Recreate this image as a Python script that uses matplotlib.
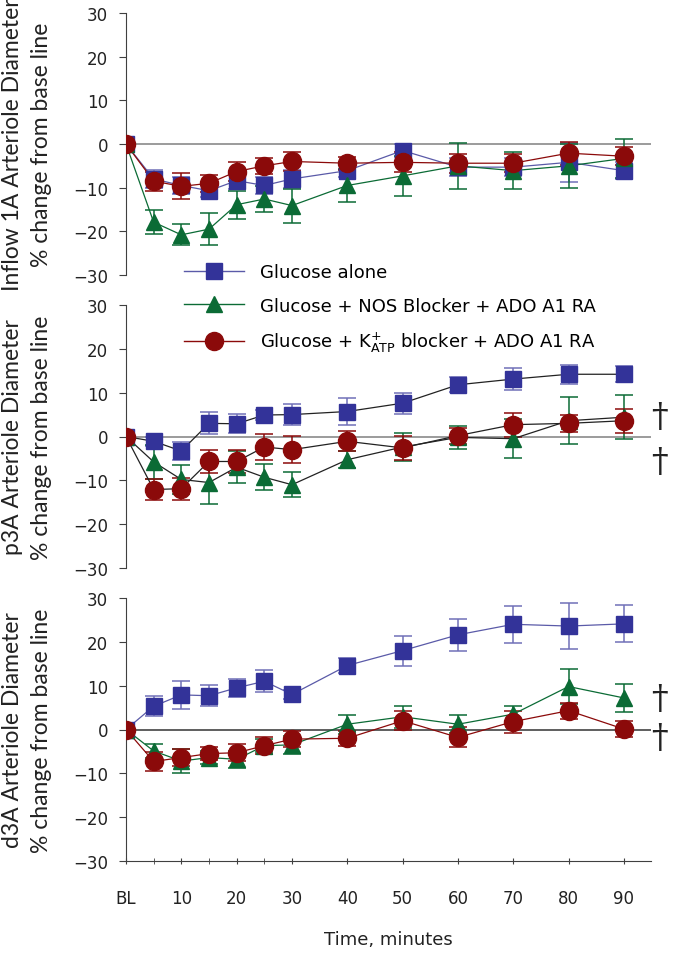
import numpy as np
import matplotlib
matplotlib.use("Agg")
import matplotlib.pyplot as plt
from matplotlib.lines import Line2D

# time points (BL = 0)
times = [0, 5, 10, 15, 20, 25, 30, 40, 50, 60, 70, 80, 90]
xtick_pos = [0, 10, 20, 30, 40, 50, 60, 70, 80, 90]
xtick_labels = ["BL", "10", "20", "30", "40", "50", "60", "70", "80", "90"]

series_names = ["Glucose alone",
                "Glucose + NOS Blocker + ADO A1 RA",
                "Glucose + K$^{+}_{\\mathrm{ATP}}$ blocker + ADO A1 RA"]

# Inflow 1A
inflow_glu = [0, -8, -9.5, -10.7, -8.4, -9.5, -8, -6.1, -1.5, -5.3, -5.3, -4.2, -6.1]
inflow_glu_err = [0, 2, 2, 1.5, 1.8, 2, 2, 1.5, 1.5, 2, 2, 4.5, 2]
inflow_nos = [0, -17.9, -20.8, -19.5, -13.9, -12.6, -14.1, -9.5, -7.3, -5, -6.1, -5, -3.3]
inflow_nos_err = [0, 2.8, 2.4, 3.6, 3.2, 3, 3.9, 3.8, 4.5, 5.3, 4.3, 5, 4.4]
inflow_katp = [0, -8.5, -9.7, -9, -6.3, -5, -4, -4.4, -4.2, -4.4, -4.4, -2.1, -2.8]
inflow_katp_err = [0, 2.2, 3, 2, 2.1, 1.8, 2.2, 1.5, 2.3, 2.2, 2, 2.6, 2]

# p3A
p3a_glu = [0, -1.1, -3.3, 3, 2.9, 4.9, 5, 5.7, 7.6, 11.8, 13.1, 14.2, 14.2]
p3a_glu_err = [0, 1, 2, 2.5, 2.2, 1.2, 2.4, 3, 2.4, 1.7, 2.5, 2.2, 1.8]
p3a_nos = [0, -5.8, -9.8, -10.5, -7, -9.3, -11, -5.3, -2.4, -0.2, -0.5, 3.6, 4.4]
p3a_nos_err = [0, 3.8, 3.3, 5, 3.7, 3, 2.9, 2, 3.3, 2.7, 4.4, 5.3, 5]
p3a_katp = [0, -12.1, -11.9, -5.7, -5.7, -2.4, -3, -1.1, -2.6, 0.2, 2.7, 3, 3.6]
p3a_katp_err = [0, 2.3, 2.5, 2.7, 2.6, 2.9, 3.1, 2.3, 2.7, 1.8, 2.7, 2, 2.7]

# d3A
d3a_glu = [0, 5.3, 7.9, 7.7, 9.5, 11, 8, 14.6, 18, 21.6, 24, 23.6, 24.1]
d3a_glu_err = [0, 2.3, 3.2, 2.4, 2.1, 2.5, 1, 1.8, 3.4, 3.7, 4.2, 5.3, 4.2]
d3a_nos = [0, -4.9, -7.2, -6.4, -6.8, -3.7, -3.5, 1.2, 2.9, 1.2, 3.5, 9.8, 7.2]
d3a_nos_err = [0, 1.5, 2.7, 1.5, 2, 1.5, 2, 2.2, 2.5, 2, 1.8, 4, 3.1]
d3a_katp = [0, -7.3, -6.4, -5.5, -5.3, -3.7, -2.2, -2, 2, -1.8, 1.8, 4.3, 0.1]
d3a_katp_err = [0, 2.1, 2, 1.5, 1.9, 2, 1.9, 1.7, 2.2, 2.3, 2.5, 1.8, 1.8]

ylabels = ["Inflow 1A Arteriole Diameter", "p3A Arteriole Diameter", "d3A Arteriole Diameter"]
dagger_y = [[], [4.4, -5.8], [7, -2]]

blue = "#333399"
blue_err = "#7070b8"
green = "#0b6b35"
red = "#8b0a0a"

W, H = 681, 954
fig = plt.figure(figsize=(W / 100, H / 100), dpi=100)

label_font = ["Lato", "DejaVu Sans"]
tick_font = ["DejaVu Sans"]

panels = [
    (14, 276, (inflow_glu, inflow_glu_err), (inflow_nos, inflow_nos_err), (inflow_katp, inflow_katp_err), None),
    (306, 569, (p3a_glu, p3a_glu_err), (p3a_nos, p3a_nos_err), (p3a_katp, p3a_katp_err), "#222222"),
    (599, 862, (d3a_glu, d3a_glu_err), (d3a_nos, d3a_nos_err), (d3a_katp, d3a_katp_err), None),
]

x0, x1 = 126, 651
for i, (top, bot, g, n, k, linec) in enumerate(panels):
    ax = fig.add_axes([x0 / W, 1 - bot / H, (x1 - x0) / W, (bot - top) / H])
    ax.set_xlim(0, 94.9)
    ax.set_ylim(-30, 30)
    ax.axhline(0, color="#808080" if i < 2 else "#333333", lw=1.1, zorder=1)
    specs = [(g, "s", blue, blue_err, "#5a5aa8", 11),
             (n, "^", green, green, green, 12),
             (k, "o", red, red, red, 13)]
    for (vals, errs), mk, fc, ec, lc, ms in specs:
        ax.errorbar(times, vals, yerr=errs, fmt="none", ecolor=ec, elinewidth=1.1,
                    capsize=6.5, capthick=1.1, zorder=2)
        ax.plot(times, vals, color=linec if linec else lc, lw=0.9, zorder=3)
        ax.plot(times, vals, ls="none", marker=mk, ms=ms, mfc=fc, mec=fc, zorder=4)
    ax.spines["top"].set_visible(False)
    ax.spines["right"].set_visible(False)
    ax.spines["left"].set_color("#404040")
    ax.set_yticks([-30, -20, -10, 0, 10, 20, 30])
    ax.tick_params(axis="y", direction="out", length=5, color="#404040", labelsize=12, pad=8)
    for t in ax.get_yticklabels():
        t.set_family(tick_font)
        t.set_color("#222222")
    if i < 2:
        ax.spines["bottom"].set_visible(False)
        ax.set_xticks([])
    else:
        ax.spines["bottom"].set_color("#404040")
        ax.set_xticks(times, minor=True)
        ax.set_xticks(xtick_pos)
        ax.set_xticklabels(xtick_labels, family=tick_font, fontsize=12, color="#222222")
        ax.tick_params(axis="x", which="both", direction="inout", length=5, color="#404040", pad=18)
        ax.set_xlabel("Time, minutes", fontsize=13, family=tick_font, labelpad=16, color="#222222")
    ax.patch.set_alpha(0)
    for yv in dagger_y[i]:
        ax.text(96.5, yv, "\u2020", fontsize=24, family="DejaVu Serif", ha="center", va="center",
                color="#222222", clip_on=False)
    yc = 1 - (top + bot) / 2 / H
    fig.text(13 / W, yc, ylabels[i], rotation=90, ha="center", va="center",
             fontsize=16.5, family=label_font, color="#222222")
    fig.text(42 / W, yc, "% change from base line", rotation=90, ha="center", va="center",
             fontsize=16.5, family=label_font, color="#222222")

handles = [
    Line2D([], [], color="#5a5aa8", lw=1, marker="s", ms=11, mfc=blue, mec=blue),
    Line2D([], [], color=green, lw=1, marker="^", ms=12, mfc=green, mec=green),
    Line2D([], [], color=red, lw=1, marker="o", ms=13, mfc=red, mec=red),
]
fig.legend(handles, series_names, loc="upper left", bbox_to_anchor=(168 / W, 1 - 248 / H),
           frameon=False, handlelength=3.3, labelspacing=0.85,
           prop={"family": "DejaVu Sans", "size": 13}, handletextpad=0.9)

fig.savefig("out.png", dpi=100)
